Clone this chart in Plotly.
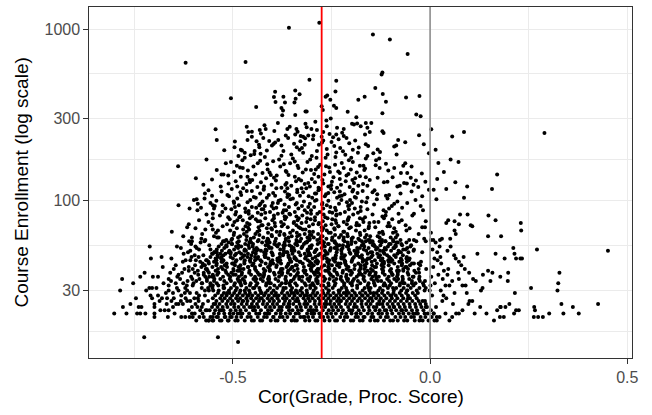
import plotly.graph_objects as go

# ---------------- data ----------------
# correlation values of courses at enrollment levels 20..59
lvl_20 = [-.561, -.552, -.533, -.529, -.511, -.494, -.488, -.470, -.452, -.447, -.431, -.426, -.404, -.392, -.387, -.369, -.351, -.343, -.338, -.317, -.306, -.291, -.286, -.268, -.255, -.241, -.236, -.219, -.201, -.195, -.178, -.171, -.152, -.140, -.133, -.117, -.101, -.094, -.082, -.066, -.058, -.039, -.027, -.019, -.004, .011]
lvl_21 = [-.557, -.541, -.538, -.519, -.503, -.491, -.479, -.463, -.455, -.437, -.421, -.414, -.398, -.381, -.374, -.362, -.346, -.329, -.322, -.309, -.297, -.279, -.271, -.259, -.247, -.228, -.216, -.210, -.189, -.183, -.166, -.149, -.144, -.126, -.112, -.107, -.088, -.075, -.063, -.048, -.041, -.024, -.012, .004, .017]
lvl_22 = [-.548, -.536, -.522, -.508, -.499, -.482, -.476, -.459, -.441, -.433, -.419, -.408, -.391, -.379, -.366, -.355, -.341, -.333, -.312, -.301, -.294, -.277, -.262, -.251, -.239, -.224, -.213, -.199, -.187, -.176, -.158, -.147, -.131, -.122, -.109, -.096, -.079, -.068, -.054, -.043, -.031, -.014, -.006, .009]
lvl_23 = [-.566, -.545, -.530, -.524, -.506, -.493, -.481, -.467, -.449, -.444, -.429, -.411, -.402, -.385, -.377, -.358, -.349, -.335, -.326, -.308, -.296, -.288, -.272, -.257, -.246, -.233, -.221, -.204, -.197, -.181, -.168, -.154, -.139, -.128, -.115, -.099, -.086, -.071, -.061, -.046, -.033, -.017, .002]
lvl_24 = [-.553, -.539, -.526, -.514, -.497, -.486, -.472, -.458, -.446, -.436, -.417, -.406, -.395, -.382, -.363, -.357, -.339, -.328, -.315, -.303, -.289, -.275, -.266, -.249, -.238, -.226, -.208, -.193, -.186, -.172, -.156, -.143, -.136, -.119, -.103, -.092, -.077, -.064, -.051, -.036, -.022, -.008]
lvl_25 = [-.549, -.534, -.517, -.505, -.496, -.478, -.465, -.452, -.439, -.424, -.413, -.399, -.388, -.371, -.359, -.347, -.331, -.319, -.311, -.293, -.281, -.268, -.254, -.243, -.231, -.214, -.203, -.191, -.174, -.162, -.151, -.134, -.121, -.108, -.095, -.081, -.067, -.052, -.038, -.025, -.011]
lvl_26 = [-.542, -.527, -.513, -.501, -.487, -.474, -.463, -.448, -.434, -.422, -.407, -.396, -.383, -.368, -.356, -.342, -.334, -.316, -.305, -.292, -.279, -.264, -.252, -.236, -.227, -.211, -.198, -.184, -.173, -.157, -.146, -.129, -.118, -.102, -.089, -.074, -.059, -.045, -.029, -.013]
lvl_27 = [-.551, -.532, -.521, -.507, -.492, -.482, -.466, -.454, -.441, -.427, -.412, -.401, -.387, -.373, -.364, -.348, -.337, -.321, -.309, -.298, -.283, -.271, -.258, -.244, -.232, -.219, -.205, -.193, -.179, -.165, -.152, -.137, -.125, -.111, -.097, -.083, -.068, -.051, -.034]
lvl_28 = [-.545, -.528, -.516, -.502, -.489, -.475, -.461, -.451, -.436, -.421, -.409, -.395, -.384, -.369, -.357, -.344, -.329, -.318, -.303, -.291, -.277, -.265, -.253, -.238, -.226, -.212, -.199, -.187, -.172, -.158, -.143, -.131, -.116, -.101, -.087, -.072, -.056, -.038]
lvl_29 = [-.538, -.523, -.509, -.497, -.483, -.469, -.457, -.443, -.429, -.417, -.402, -.391, -.376, -.362, -.351, -.336, -.324, -.312, -.297, -.286, -.271, -.259, -.245, -.231, -.219, -.206, -.191, -.178, -.164, -.151, -.136, -.122, -.107, -.093, -.077, -.061, -.044]
lvl_30 = [-.571, -.550, -.536, -.510, -.493, -.470, -.459, -.431, -.412, -.397, -.373, -.353, -.340, -.313, -.295, -.273, -.257, -.232, -.211, -.197, -.171, -.154, -.131, -.120, -.092, -.073, -.058, -.034, -.014, -.001]
lvl_31 = [-.563, -.552, -.524, -.505, -.490, -.466, -.446, -.433, -.406, -.388, -.366, -.350, -.325, -.304, -.290, -.264, -.247, -.224, -.213, -.185, -.166, -.151, -.127, -.107, -.094, -.067, -.049, -.027, -.011]
lvl_32 = [-.557, -.537, -.524, -.497, -.479, -.457, -.441, -.416, -.395, -.381, -.355, -.338, -.315, -.304, -.276, -.257, -.242, -.218, -.198, -.185, -.158, -.140, -.118, -.102, -.077, -.056, -.042, -.016, .001]
lvl_33 = [-.579, -.557, -.541, -.516, -.495, -.481, -.455, -.438, -.415, -.404, -.376, -.357, -.342, -.318, -.298, -.285, -.258, -.240, -.218, -.202, -.177, -.156, -.142, -.116, -.099, -.076, -.065, -.037, -.018]
lvl_34 = [-.548, -.522, -.505, -.482, -.471, -.443, -.424, -.409, -.385, -.365, -.352, -.325, -.307, -.285, -.269, -.244, -.223, -.209, -.183, -.166, -.143, -.132, -.104, -.085, -.070, -.046, -.026, -.013]
lvl_35 = [-.566, -.547, -.532, -.508, -.488, -.475, -.448, -.430, -.408, -.392, -.367, -.346, -.332, -.306, -.289, -.266, -.255, -.227, -.208, -.193, -.169, -.149, -.136, -.109, -.091, -.069, -.053, -.028]
lvl_36 = [-.552, -.525, -.507, -.485, -.469, -.444, -.423, -.409, -.383, -.366, -.343, -.332, -.304, -.285, -.270, -.246, -.226, -.213, -.186, -.168, -.146, -.130, -.105, -.084, -.070, -.044, -.027]
lvl_37 = [-.574, -.551, -.540, -.512, -.493, -.478, -.454, -.434, -.421, -.394, -.376, -.354, -.338, -.313, -.292, -.278, -.252, -.235, -.212, -.201, -.173, -.154, -.139, -.115, -.095, -.082, -.055]
lvl_38 = [-.561, -.537, -.517, -.504, -.477, -.459, -.437, -.421, -.396, -.375, -.361, -.335, -.318, -.295, -.284, -.256, -.237, -.222, -.198, -.178, -.165, -.138, -.120, -.098, -.082, -.057, -.036]
lvl_39 = [-.544, -.519, -.498, -.484, -.458, -.441, -.418, -.407, -.379, -.360, -.345, -.321, -.301, -.288, -.261, -.243, -.221, -.205, -.180, -.159, -.145, -.119, -.102, -.079, -.068, -.040]
lvl_40 = [-.569, -.538, -.526, -.499, -.480, -.444, -.422, -.407, -.378, -.354, -.336, -.303, -.282, -.256, -.242, -.212, -.192, -.167, -.150, -.122, -.099, -.068, -.056, -.029, -.010]
lvl_41 = [-.552, -.530, -.515, -.486, -.462, -.444, -.411, -.390, -.364, -.350, -.320, -.300, -.275, -.258, -.230, -.207, -.176, -.164, -.137, -.118, -.082, -.060]
lvl_42 = [-.575, -.542, -.521, -.495, -.481, -.451, -.431, -.406, -.389, -.361, -.338, -.307, -.295, -.268, -.249, -.213, -.191, -.176, -.147, -.123, -.105, -.072, -.051, -.025]
lvl_43 = [-.561, -.541, -.516, -.499, -.471, -.448, -.417, -.405, -.378, -.359, -.323, -.301, -.286, -.257, -.233, -.215, -.182, -.161, -.135, -.121, -.091, -.071, -.046, -.029]
lvl_44 = [-.548, -.529, -.493, -.471, -.456, -.427, -.403, -.385, -.352, -.331, -.305, -.291, -.261, -.241, -.216, -.199, -.171, -.148, -.117, -.105, -.078, -.059, -.023]
lvl_45 = [-.566, -.542, -.524, -.491, -.470, -.444, -.430, -.400, -.380, -.355, -.338, -.310, -.287, -.256, -.244, -.217, -.198, -.162, -.140, -.125, -.096, -.072, -.054]
lvl_46 = [-.544, -.530, -.500, -.480, -.455, -.438, -.410, -.387, -.356, -.344, -.317, -.298, -.262, -.240, -.225, -.196, -.172, -.154, -.121, -.100, -.074, -.060]
lvl_47 = [-.557, -.529, -.506, -.475, -.463, -.436, -.417, -.381, -.359, -.344, -.315, -.291, -.273, -.240, -.219, -.193, -.179, -.149, -.129, -.104, -.087, -.059]
lvl_48 = [-.539, -.524, -.495, -.471, -.453, -.420, -.399, -.373, -.359, -.329, -.309, -.284, -.267, -.239, -.216, -.185, -.173, -.146, -.127, -.091, -.069]
lvl_49 = [-.553, -.532, -.506, -.492, -.462, -.442, -.417, -.400, -.372, -.349, -.318, -.306, -.279, -.260, -.224, -.202, -.187, -.158, -.134, -.116, -.083]
lvl_50 = [-.547, -.506, -.484, -.449, -.421, -.402, -.364, -.333, -.308, -.264, -.237, -.204, -.184, -.147, -.118, -.077, -.055, -.020]
lvl_51 = [-.528, -.509, -.471, -.440, -.415, -.371, -.344, -.311, -.291, -.254, -.225, -.184, -.162, -.127, -.099, -.080, -.042]
lvl_52 = [-.541, -.497, -.470, -.437, -.417, -.380, -.351, -.310, -.288, -.253, -.225, -.206, -.168, -.137, -.112, -.068, -.041]
lvl_53 = [-.522, -.487, -.459, -.440, -.402, -.371, -.346, -.302, -.275, -.242, -.222, -.185, -.156, -.115, -.093, -.058]
lvl_54 = [-.536, -.516, -.479, -.450, -.409, -.387, -.352, -.324, -.305, -.267, -.236, -.211, -.167, -.140, -.107, -.087, -.050]
lvl_55 = [-.517, -.486, -.461, -.417, -.390, -.357, -.337, -.300, -.271, -.230, -.208, -.173, -.145, -.126, -.088]
lvl_56 = [-.529, -.502, -.469, -.449, -.412, -.383, -.342, -.320, -.285, -.257, -.238, -.200, -.169, -.144, -.100, -.073]
lvl_57 = [-.511, -.489, -.454, -.426, -.407, -.369, -.338, -.313, -.269, -.242, -.209, -.189, -.152, -.123, -.082, -.060]
lvl_58 = [-.522, -.485, -.456, -.415, -.393, -.358, -.330, -.311, -.273, -.242, -.217, -.173, -.146, -.113, -.093]
lvl_59 = [-.504, -.466, -.435, -.410, -.366, -.339, -.306, -.286, -.249, -.220, -.179, -.157, -.122, -.094, -.075]

level_enrollment = [20, 21, 22, 23, 24, 25, 26, 27, 28, 29,
                    30, 31, 32, 33, 34, 35, 36, 37, 38, 39,
                    40, 41, 42, 43, 44, 45, 46, 47, 48, 49,
                    50, 51, 52, 53, 54, 55, 56, 57, 58, 59]
level_cor = [lvl_20, lvl_21, lvl_22, lvl_23, lvl_24, lvl_25, lvl_26, lvl_27, lvl_28, lvl_29,
             lvl_30, lvl_31, lvl_32, lvl_33, lvl_34, lvl_35, lvl_36, lvl_37, lvl_38, lvl_39,
             lvl_40, lvl_41, lvl_42, lvl_43, lvl_44, lvl_45, lvl_46, lvl_47, lvl_48, lvl_49,
             lvl_50, lvl_51, lvl_52, lvl_53, lvl_54, lvl_55, lvl_56, lvl_57, lvl_58, lvl_59]

# (correlation, enrollment) pairs
core_more = [(-.534, 23), (-.476, 26), (-.412, 22), (-.357, 25), (-.302, 23), (-.244, 27), (-.187, 22), (-.128, 25),
             (-.073, 23), (-.019, 26), (-.515, 29), (-.449, 31), (-.391, 28), (-.329, 30), (-.271, 32), (-.214, 29),
             (-.156, 31), (-.098, 28), (-.046, 33), (-.551, 32), (-.486, 34), (-.423, 36), (-.366, 33), (-.311, 35),
             (-.253, 37), (-.196, 34), (-.137, 36), (-.081, 35), (-.028, 38), (-.537, 38), (-.473, 40), (-.406, 39),
             (-.349, 41), (-.292, 38), (-.236, 42), (-.177, 40), (-.117, 43), (-.063, 41), (-.526, 44), (-.457, 45),
             (-.398, 43), (-.341, 46), (-.284, 44), (-.225, 47), (-.169, 45), (-.109, 48), (-.052, 46), (-.511, 50),
             (-.446, 52), (-.381, 49), (-.326, 53), (-.267, 51), (-.208, 54), (-.151, 50), (-.091, 53), (-.503, 56),
             (-.437, 58), (-.372, 55), (-.316, 57), (-.259, 56), (-.199, 58), (-.142, 55), (-.085, 57),
             (-.545, 25), (-.488, 22), (-.431, 27), (-.376, 24), (-.318, 21), (-.262, 25), (-.205, 23), (-.149, 27),
             (-.091, 24), (-.036, 22), (-.522, 31), (-.463, 28), (-.407, 33), (-.345, 29), (-.289, 34), (-.229, 30),
             (-.172, 28), (-.113, 32), (-.058, 30), (-.499, 37), (-.441, 35), (-.383, 38), (-.324, 36), (-.266, 39),
             (-.211, 35), (-.152, 38), (-.096, 37), (-.042, 36), (-.518, 42), (-.461, 41), (-.404, 44), (-.341, 42),
             (-.285, 40), (-.227, 43), (-.166, 42), (-.106, 45), (-.538, 47), (-.479, 49), (-.419, 47), (-.362, 50),
             (-.304, 48), (-.246, 46), (-.188, 49), (-.131, 47), (-.074, 50), (-.492, 54), (-.429, 51), (-.368, 55),
             (-.309, 52), (-.252, 53), (-.192, 51), (-.133, 53), (-.071, 55),
             (-.507, 21), (-.453, 24), (-.397, 21), (-.338, 26), (-.281, 22), (-.226, 26), (-.169, 21), (-.111, 23),
             (-.056, 27), (-.011, 24), (-.481, 30), (-.427, 29), (-.372, 31), (-.312, 28), (-.257, 30), (-.199, 33),
             (-.143, 29), (-.086, 31), (-.031, 29), (-.469, 33), (-.411, 35), (-.353, 34), (-.295, 32), (-.238, 35),
             (-.181, 37), (-.124, 34), (-.068, 33), (-.549, 36), (-.488, 39), (-.431, 37), (-.374, 40), (-.316, 39),
             (-.258, 41), (-.201, 39), (-.141, 41), (-.084, 39), (-.502, 43), (-.444, 47), (-.387, 45), (-.329, 44),
             (-.272, 46), (-.215, 44), (-.158, 46), (-.099, 44), (-.041, 43), (-.467, 51), (-.408, 53), (-.351, 51),
             (-.293, 50), (-.236, 52), (-.178, 53), (-.119, 51), (-.062, 52), (-.458, 57), (-.395, 56), (-.338, 58),
             (-.279, 57), (-.221, 55), (-.163, 58), (-.104, 56), (-.048, 55),
             (-.583, 44), (-.612, 41), (-.597, 48), (-.631, 28), (-.652, 24), (-.641, 36), (-.617, 32), (-.589, 27),
             (-.603, 35), (-.579, 24), (-.571, 42), (-.592, 53), (-.623, 40), (-.657, 34), (-.668, 25), (-.606, 56)]

left_pts = [(-.711, 54), (-.708, 46), (-.681, 47), (-.656, 46), (-.642, 54), (-.632, 53), (-.614, 50), (-.608, 51),
            (-.595, 54), (-.582, 57), (-.570, 59), (-.557, 52), (-.547, 50), (-.627, 44), (-.608, 45), (-.587, 47),
            (-.577, 43), (-.562, 44), (-.551, 49), (-.541, 50), (-.529, 46), (-.519, 49),
            (-.781, 35), (-.786, 30), (-.779, 24), (-.801, 22), (-.735, 36), (-.724, 38), (-.703, 36), (-.712, 31),
            (-.705, 31), (-.694, 31), (-.663, 35), (-.663, 32), (-.739, 24), (-.732, 24), (-.743, 22), (-.735, 22),
            (-.722, 22), (-.699, 25), (-.699, 24), (-.699, 22), (-.699, 21), (-.709, 28), (-.705, 27), (-.686, 26),
            (-.680, 27), (-.670, 29), (-.663, 30), (-.684, 23), (-.673, 23), (-.663, 23), (-.665, 21), (-.648, 22),
            (-.656, 26), (-.650, 27), (-.644, 25), (-.638, 25), (-.642, 31), (-.638, 30), (-.622, 29), (-.621, 31),
            (-.616, 30), (-.638, 37), (-.629, 38), (-.612, 39), (-.602, 40), (-.597, 38), (-.589, 39), (-.659, 38),
            (-.650, 40), (-.632, 26), (-.627, 25), (-.616, 26), (-.608, 26), (-.604, 24), (-.595, 25), (-.587, 26),
            (-.631, 21), (-.621, 21), (-.610, 21), (-.602, 21), (-.597, 22), (-.574, 21), (-.562, 20), (-.551, 21),
            (-.550, 20), (-.538, 16), (-.521, 21), (-.513, 20), (-.725, 16), (-.487, 15),
            (-.600, 33), (-.592, 29), (-.585, 35), (-.579, 31), (-.571, 28), (-.566, 34), (-.561, 30), (-.598, 27),
            (-.590, 24), (-.583, 23), (-.576, 25), (-.569, 23), (-.563, 26), (-.606, 36), (-.596, 42), (-.588, 37),
            (-.580, 41), (-.574, 38), (-.566, 40), (-.560, 36), (-.605, 47), (-.594, 45), (-.586, 52), (-.575, 48),
            (-.568, 45), (-.560, 55), (-.609, 29), (-.602, 32), (-.593, 34), (-.586, 28), (-.578, 33), (-.570, 36),
            (-.564, 39), (-.612, 23), (-.604, 22), (-.593, 20), (-.585, 21), (-.577, 22), (-.568, 20), (-.559, 23),
            (-.615, 34), (-.620, 27), (-.626, 33), (-.634, 35), (-.645, 33), (-.652, 29), (-.667, 27), (-.676, 33),
            (-.690, 28), (-.720, 30), (-.746, 27), (-.760, 25), (-.770, 22), (-.753, 33), (-.690, 36), (-.678, 41),
            (-.645, 42), (-.620, 45), (-.611, 58), (-.625, 49)]

right_pts = [(.120, 49), (.166, 49), (.147, 39), (.158, 38), (.134, 37), (.153, 34), (.179, 24), (.170, 23),
             (.162, 20), (.143, 22), (.127, 24), (.107, 26), (.100, 26), (.097, 25), (.082, 23), (.073, 22),
             (.066, 22), (.056, 21), (.049, 20), (.039, 22), (.024, 21), (.133, 31), (.129, 30), (.116, 34),
             (.109, 35), (.090, 32), (.082, 32), (.073, 35), (.056, 34), (.049, 32), (.039, 32), (.099, 38),
             (.088, 40), (.079, 42), (.073, 44), (.065, 46), (.061, 48), (.052, 54), (.044, 51), (.024, 54),
             (.018, 50), (.035, 39), (.046, 40),
             (.211, 53), (.214, 49), (.218, 46), (.229, 46), (.233, 46), (.189, 46), (.271, 52), (.451, 51),
             (.198, 38), (.197, 34), (.178, 36), (.328, 38), (.325, 33), (.323, 30), (.256, 31), (.215, 29),
             (.178, 24), (.191, 24), (.201, 25), (.218, 23), (.225, 23), (.213, 22), (.177, 21), (.187, 21),
             (.264, 24), (.266, 23), (.263, 21), (.274, 21), (.286, 21), (.302, 22), (.333, 25), (.338, 22),
             (.362, 24), (.377, 22), (.426, 25),
             (.005, 28), (.012, 33), (.008, 41), (.015, 24), (.021, 37), (.027, 30), (.031, 26), (.011, 46),
             (.006, 52), (.019, 45), (.034, 28), (.003, 36), (.028, 43), (.014, 57), (.041, 27), (.009, 22),
             (.017, 20), (.032, 35), (.062, 29), (.071, 38), (.093, 29), (.113, 22), (.085, 47), (.058, 25),
             (.044, 37), (.026, 47)]

mid_pts = [(-.562, 115), (-.529, 113), (-.553, 107), (-.572, 103), (-.599, 101), (-.592, 102), (-.514, 108),
           (-.638, 94), (-.610, 90), (-.590, 88), (-.581, 91), (-.557, 97), (-.551, 94), (-.548, 90), (-.546, 93),
           (-.519, 90), (-.551, 84), (-.533, 82), (-.551, 79), (-.562, 75), (-.526, 71), (-.616, 70), (-.655, 66),
           (-.570, 68), (-.551, 68), (-.538, 67), (-.548, 62), (-.540, 61), (-.604, 61), (-.580, 60), (-.572, 58),
           (-.604, 58), (-.525, 58), (-.517, 59),
           (-.047, 113), (-.020, 106), (-.171, 114), (-.146, 112), (-.135, 102), (-.159, 104), (-.112, 107),
           (-.104, 108), (-.108, 103), (-.083, 99), (-.058, 97), (-.091, 96), (-.097, 93), (-.159, 89), (-.104, 90),
           (-.112, 86), (-.018, 88), (-.041, 84), (-.080, 84), (-.121, 81), (-.117, 79), (-.079, 75), (-.072, 77),
           (-.165, 80), (-.169, 75), (-.142, 75), (-.131, 75), (-.155, 71), (-.156, 69), (-.108, 71), (-.102, 71),
           (-.011, 76), (-.020, 70), (-.013, 70), (-.060, 67), (-.087, 66), (-.094, 65), (-.129, 65), (-.119, 64),
           (-.133, 62), (-.161, 63), (-.165, 61), (-.100, 61), (-.087, 61), (-.041, 59), (-.035, 58), (-.053, 59),
           (-.015, 60), (-.011, 58), (-.153, 59), (-.128, 58), (-.114, 58), (-.003, 116), (.009, 116), (.041, 117),
           (.157, 117), (.016, 102), (.086, 104), (.076, 83), (.095, 83), (.046, 77), (.062, 76), (.041, 74),
           (.073, 73), (.103, 72), (.107, 71), (.148, 82), (.166, 77), (.002, 65), (.062, 67), (.065, 64),
           (.030, 60), (.025, 59), (.051, 60), (.008, 59), (.002, 59), (.147, 62), (.180, 62), (.230, 74), (.231, 67),
           (-.503, 117), (-.481, 112), (-.474, 118), (-.452, 114), (-.431, 110), (-.422, 116), (-.398, 111),
           (-.390, 118), (-.368, 113), (-.361, 109), (-.337, 116), (-.322, 112), (-.314, 118), (-.292, 110),
           (-.283, 115), (-.258, 111), (-.251, 117), (-.229, 113), (-.217, 109), (-.195, 116), (-.184, 111),
           (-.510, 106), (-.489, 103), (-.479, 108), (-.456, 101), (-.447, 105), (-.425, 99), (-.414, 104),
           (-.393, 107), (-.384, 100), (-.362, 105), (-.354, 102), (-.330, 107), (-.320, 99), (-.299, 104),
           (-.288, 101), (-.267, 106), (-.258, 100), (-.236, 104), (-.224, 107), (-.203, 101), (-.191, 105),
           (-.173, 99), (-.497, 97), (-.485, 94), (-.463, 98), (-.452, 92), (-.430, 96), (-.419, 93), (-.399, 97),
           (-.390, 91), (-.369, 95), (-.358, 92), (-.338, 97), (-.325, 93), (-.305, 96), (-.294, 92), (-.273, 97),
           (-.262, 94), (-.241, 91), (-.231, 96), (-.208, 93), (-.198, 97), (-.176, 92),
           (-.504, 89), (-.492, 86), (-.469, 90), (-.460, 87), (-.437, 85), (-.427, 89), (-.406, 86), (-.397, 90),
           (-.374, 85), (-.365, 88), (-.343, 86), (-.334, 90), (-.312, 85), (-.302, 88), (-.280, 86), (-.271, 90),
           (-.248, 85), (-.239, 88), (-.216, 86), (-.206, 89), (-.183, 85),
           (-.494, 83), (-.484, 80), (-.460, 84), (-.451, 81), (-.428, 83), (-.418, 79), (-.396, 82), (-.386, 84),
           (-.365, 80), (-.355, 83), (-.333, 79), (-.324, 82), (-.302, 84), (-.292, 80), (-.270, 83), (-.260, 79),
           (-.238, 82), (-.228, 84), (-.206, 80), (-.195, 83), (-.178, 79),
           (-.508, 78), (-.496, 75), (-.475, 77), (-.464, 74), (-.442, 78), (-.431, 76), (-.410, 73), (-.400, 77),
           (-.378, 75), (-.368, 78), (-.346, 74), (-.336, 77), (-.314, 75), (-.303, 78), (-.282, 74), (-.272, 76),
           (-.250, 73), (-.240, 77), (-.219, 75), (-.208, 78), (-.186, 74),
           (-.500, 72), (-.490, 69), (-.468, 71), (-.458, 73), (-.435, 70), (-.425, 72), (-.403, 69), (-.393, 71),
           (-.371, 73), (-.361, 70), (-.339, 72), (-.329, 69), (-.307, 71), (-.297, 73), (-.275, 70), (-.265, 72),
           (-.243, 69), (-.233, 71), (-.211, 73), (-.201, 70), (-.180, 72),
           (-.507, 67), (-.497, 65), (-.474, 68), (-.465, 66), (-.443, 64), (-.433, 67), (-.411, 65), (-.401, 68),
           (-.380, 66), (-.370, 64), (-.348, 67), (-.338, 65), (-.316, 68), (-.306, 66), (-.284, 64), (-.274, 67),
           (-.252, 65), (-.242, 68), (-.220, 66), (-.210, 64), (-.188, 67), (-.178, 65),
           (-.498, 63), (-.487, 61), (-.465, 62), (-.455, 60), (-.433, 63), (-.423, 61), (-.401, 62), (-.391, 60),
           (-.369, 63), (-.359, 61), (-.337, 62), (-.327, 60), (-.305, 63), (-.295, 61), (-.273, 62), (-.263, 60),
           (-.241, 63), (-.231, 61), (-.209, 62), (-.199, 60), (-.177, 63)]

mid_more = [(-.447, 61), (-.318, 64), (-.279, 60), (-.152, 62), (-.389, 66), (-.226, 63), (-.502, 60), (-.351, 62),
            (-.262, 67), (-.414, 69), (-.196, 61), (-.333, 70), (-.472, 64), (-.297, 66), (-.238, 74), (-.366, 60),
            (-.121, 66), (-.428, 72), (-.311, 61), (-.205, 69), (-.543, 65), (-.276, 62), (-.402, 63), (-.187, 72),
            (-.345, 75), (-.459, 68), (-.248, 61), (-.376, 71), (-.139, 70), (-.292, 77), (-.515, 73), (-.218, 66),
            (-.323, 68), (-.437, 76), (-.266, 80), (-.396, 79), (-.171, 78), (-.301, 63), (-.481, 81), (-.357, 84),
            (-.232, 71), (-.418, 85), (-.283, 73), (-.105, 74), (-.527, 86), (-.339, 81), (-.209, 77), (-.462, 70),
            (-.371, 88), (-.255, 86), (-.146, 83), (-.309, 92), (-.433, 94), (-.191, 90), (-.386, 97), (-.274, 95),
            (-.498, 99), (-.225, 101), (-.348, 103), (-.162, 98), (-.409, 108), (-.289, 110), (-.465, 114),
            (-.243, 112), (-.362, 118), (-.134, 109), (-.318, 88), (-.441, 91), (-.205, 94), (-.567, 83),
            (-.586, 77), (-.595, 69), (-.578, 64), (-.612, 73), (-.589, 96), (-.571, 110), (-.626, 62), (-.542, 100),
            (-.083, 63), (-.062, 72), (-.045, 82), (-.071, 91), (-.029, 64), (-.052, 69), (-.096, 78), (-.118, 88),
            (-.037, 101), (-.075, 110), (-.142, 95), (-.024, 93), (-.305, 60), (-.355, 65), (-.412, 60), (-.257, 65),
            (-.182, 60), (-.482, 62), (-.438, 66), (-.331, 63), (-.219, 61), (-.271, 69), (-.394, 74), (-.312, 79),
            (-.457, 79), (-.237, 83), (-.176, 87), (-.369, 81), (-.423, 89), (-.286, 84), (-.253, 92), (-.341, 95),
            (-.495, 92), (-.211, 98), (-.379, 101), (-.308, 106), (-.442, 104), (-.264, 109), (-.197, 113),
            (-.337, 112), (-.422, 117), (-.278, 117), (-.512, 80), (-.526, 94), (-.554, 72), (-.536, 61),
            (-.489, 77), (-.166, 67), (-.128, 61), (-.091, 69), (-.154, 74), (-.113, 82), (-.382, 63), (-.326, 74),
            (-.248, 78), (-.402, 93), (-.292, 100), (-.230, 106), (-.468, 86), (-.357, 108), (-.188, 104),
            (-.141, 115)]

upper_pts = [(-.541, 226), (-.522, 197), (-.639, 159), (-.567, 174), (-.518, 165), (-.529, 142), (-.524, 142),
             (-.511, 126), (-.165, 243), (-.118, 248), (-.028, 241), (-.016, 213), (-.081, 226), (-.063, 219),
             (-.091, 207), (-.086, 210), (-.163, 213), (-.157, 208), (-.133, 199), (-.127, 192), (-.144, 189),
             (-.159, 182), (-.163, 176), (-.129, 176), (-.169, 160), (-.165, 154), (-.167, 151), (-.138, 161),
             (-.128, 155), (-.106, 150), (-.091, 155), (-.068, 160), (-.063, 165), (-.058, 145), (-.049, 136),
             (-.036, 131), (-.163, 137), (-.153, 132), (-.133, 136), (-.117, 128), (-.108, 129), (-.083, 121),
             (-.077, 122), (-.066, 127), (-.059, 126), (-.030, 120), (-.170, 125), (-.159, 122), (.056, 237),
             (-.003, 189), (.021, 166), (.052, 174), (.072, 168), (.170, 142), (.094, 121), (.290, 248),
             (-.342, 243), (-.328, 238), (-.322, 236), (-.296, 240), (-.238, 243), (-.219, 238), (-.429, 246),
             (-.452, 236), (-.440, 222), (-.423, 232), (-.401, 210), (-.393, 218), (-.385, 226), (-.360, 232),
             (-.345, 215), (-.338, 205), (-.329, 222), (-.309, 240), (-.297, 228), (-.282, 212), (-.275, 236),
             (-.262, 200), (-.250, 220), (-.243, 208), (-.232, 228), (-.221, 194), (-.205, 216), (-.190, 224),
             (-.181, 204), (-.496, 205), (-.480, 198), (-.470, 190), (-.455, 184), (-.430, 188), (-.414, 196),
             (-.372, 195), (-.352, 186), (-.322, 190), (-.300, 182), (-.287, 195), (-.260, 186), (-.240, 180),
             (-.215, 185), (-.200, 178), (-.183, 190),
             (-.505, 168), (-.490, 160), (-.476, 172), (-.462, 150), (-.448, 158), (-.437, 165), (-.425, 145),
             (-.412, 152), (-.398, 170), (-.389, 140), (-.380, 158), (-.366, 149), (-.355, 165), (-.343, 138),
             (-.334, 155), (-.323, 146), (-.311, 168), (-.300, 134), (-.290, 152), (-.279, 162), (-.268, 142),
             (-.256, 156), (-.245, 137), (-.233, 148), (-.224, 166), (-.212, 140), (-.201, 152), (-.190, 135),
             (-.178, 160), (-.512, 140), (-.493, 130), (-.480, 138), (-.466, 125), (-.451, 132), (-.438, 120),
             (-.429, 128), (-.416, 135), (-.402, 124), (-.391, 131), (-.377, 119), (-.364, 127), (-.352, 122),
             (-.340, 130), (-.326, 118), (-.318, 125), (-.305, 121), (-.292, 128), (-.283, 119), (-.271, 126),
             (-.258, 121), (-.249, 129), (-.236, 119), (-.226, 124), (-.214, 130), (-.204, 120), (-.193, 127),
             (-.182, 122),
             (-.470, 178), (-.458, 132), (-.443, 142), (-.431, 171), (-.419, 180), (-.407, 146), (-.396, 136),
             (-.383, 174), (-.371, 163), (-.359, 141), (-.348, 176), (-.336, 160), (-.327, 131), (-.315, 152),
             (-.304, 174), (-.294, 143), (-.284, 157), (-.273, 132), (-.265, 178), (-.254, 147), (-.241, 162),
             (-.229, 134), (-.219, 155), (-.207, 143), (-.196, 168), (-.186, 146), (-.178, 139), (-.497, 147),
             (-.486, 182), (-.475, 155), (-.463, 138), (-.445, 195), (-.433, 205), (-.408, 223), (-.377, 210),
             (-.366, 240), (-.331, 198), (-.318, 212), (-.271, 224), (-.255, 245), (-.228, 203), (-.212, 232),
             (-.196, 198),
             (-.421, 121), (-.367, 124), (-.309, 127), (-.251, 123), (-.457, 128), (-.333, 134), (-.283, 138),
             (-.197, 132), (-.404, 141), (-.229, 145), (-.364, 147), (-.302, 151), (-.482, 156), (-.264, 159),
             (-.413, 163), (-.343, 169), (-.206, 172), (-.446, 187), (-.288, 178), (-.377, 183), (-.238, 191),
             (-.325, 203), (-.397, 214), (-.274, 218), (-.463, 226), (-.317, 231), (-.246, 234), (-.434, 212),
             (-.541, 151), (-.553, 133), (-.531, 121), (-.095, 137), (-.074, 145), (-.112, 164), (-.047, 158),
             (-.137, 172), (-.085, 186), (-.042, 124), (-.021, 144), (-.012, 129), (.018, 134), (.035, 147),
             (.014, 198), (.064, 128), (-.575, 124), (-.594, 135), (-.489, 121), (-.477, 196), (-.495, 221)]

top_pts = [(-.620, 636), (-.358, 1017), (-.281, 1088), (-.468, 644), (-.505, 395), (-.441, 352), (-.306, 507),
           (-.238, 500), (-.240, 433), (-.261, 411), (-.265, 404), (-.253, 388), (-.342, 439), (-.331, 417),
           (-.341, 393), (-.344, 374), (-.393, 432), (-.396, 402), (-.392, 376), (-.372, 404), (-.368, 374),
           (-.377, 347), (-.373, 335), (-.375, 315), (-.342, 316), (-.316, 331), (-.313, 331), (-.275, 355),
           (-.272, 338), (-.244, 358), (-.238, 347), (-.252, 301), (-.263, 293), (-.291, 288), (-.386, 284),
           (-.316, 281), (-.209, 330), (-.187, 306), (-.182, 388), (-.166, 404), (-.198, 281), (-.145, 931),
           (-.102, 871), (-.057, 716), (-.121, 558), (-.123, 544), (-.139, 454), (-.120, 419), (-.112, 377),
           (-.061, 400), (-.027, 408), (-.121, 323), (-.035, 318), (-.024, 311), (-.163, 284), (-.149, 284),
           (-.159, 266), (-.544, 261), (-.153, 251), (-.121, 254), (.003, 261), (.086, 251), (-.461, 251),
           (-.432, 258), (-.362, 262), (-.339, 262), (-.271, 251), (-.223, 249), (-.193, 278), (-.185, 282),
           (-.176, 272), (-.465, 270), (-.420, 275), (-.417, 262), (-.356, 270), (-.313, 268), (-.301, 262),
           (-.287, 258), (-.262, 272), (-.236, 266), (-.219, 262), (-.452, 252), (-.395, 255), (-.336, 252)]

mean_cor = -0.275
x_ticks = [-0.5, 0.0, 0.5]
x_tick_text = ["-0.5", "0.0", "0.5"]
y_ticks = [30, 100, 300, 1000]
y_tick_text = ["30", "100", "300", "1000"]
x_title = "Cor(Grade, Proc. Score)"
y_title = "Course Enrollment (log scale)"

# ---------------- assemble ----------------
cor, enroll = [], []
for e, vals in zip(level_enrollment, level_cor):
    for c in vals:
        cor.append(c)
        enroll.append(e)
for group in (core_more, left_pts, right_pts, mid_pts, mid_more, upper_pts, top_pts):
    for c, e in group:
        cor.append(c)
        enroll.append(e)

FONT = "Liberation Sans, Arial, Helvetica, sans-serif"
GRID = "#EBEBEB"
DARK = "#333333"

fig = go.Figure()
fig.add_trace(go.Scatter(
    x=cor, y=enroll, mode="markers",
    marker=dict(color="black", size=4.0, line=dict(width=0)),
    hoverinfo="skip", showlegend=False,
))

fig.add_vline(x=0, line=dict(color="#999999", width=1.8), layer="above")
fig.add_vline(x=mean_cor, line=dict(color="#FF0000", width=1.8), layer="above")

fig.update_layout(
    width=652, height=415, autosize=False,
    margin=dict(l=89, r=20, t=7, b=57),
    paper_bgcolor="white", plot_bgcolor="white",
    font=dict(family=FONT),
    showlegend=False,
)

fig.update_xaxes(
    range=[-0.865, 0.512],
    tickmode="array", tickvals=x_ticks, ticktext=x_tick_text,
    showgrid=True, gridcolor=GRID, gridwidth=1.2,
    minor=dict(tickmode="array", tickvals=[-0.75, -0.25, 0.25], showgrid=True,
               gridcolor=GRID, gridwidth=0.6, ticks=""),
    zeroline=False,
    ticks="outside", ticklen=4.5, tickwidth=1.1, tickcolor=DARK,
    tickfont=dict(size=16, color="#4D4D4D", family=FONT),
    showline=True, linecolor=DARK, linewidth=1.3, mirror=True,
)
fig.update_yaxes(
    type="log", range=[1.083, 3.129],
    tickmode="array", tickvals=y_ticks, ticktext=y_tick_text,
    showgrid=True, gridcolor=GRID, gridwidth=1.2,
    minor=dict(tickmode="array", tickvals=[17.32, 54.77, 173.2, 547.7], showgrid=True,
               gridcolor=GRID, gridwidth=0.6, ticks=""),
    zeroline=False,
    ticks="outside", ticklen=4.5, tickwidth=1.1, tickcolor=DARK,
    tickfont=dict(size=16, color="#4D4D4D", family=FONT),
    showline=True, linecolor=DARK, linewidth=1.3, mirror=True,
)

fig.add_annotation(text=x_title, xref="paper", yref="paper", x=0.5, y=-0.111,
                   xanchor="center", yanchor="middle", showarrow=False,
                   font=dict(size=19, color="black", family=FONT))
fig.add_annotation(text=y_title, xref="paper", yref="paper", x=-0.1234, y=0.5,
                   xanchor="center", yanchor="middle", textangle=-90, showarrow=False,
                   font=dict(size=19, color="black", family=FONT))

fig.write_html("out.html")
